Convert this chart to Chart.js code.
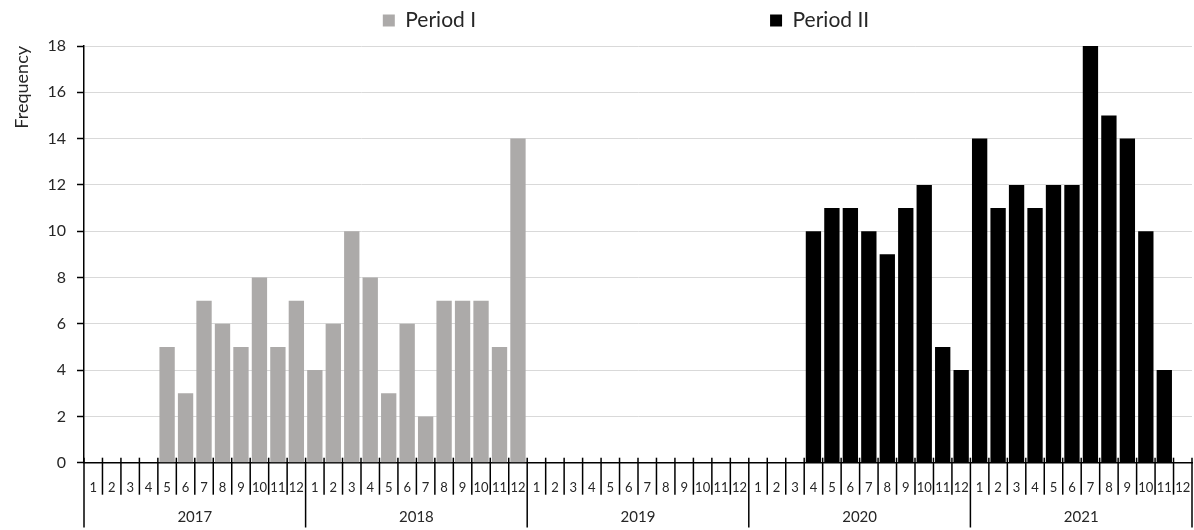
<!DOCTYPE html>
<html>
<head>
<meta charset="utf-8">
<script src="https://cdn.jsdelivr.net/npm/chart.js@4/dist/chart.umd.min.js"></script>
<style>
  html, body { margin: 0; padding: 0; background: #fff; }
  #wrap { width: 1194px; height: 530px; }
</style>
</head>
<body>
<div id="wrap"><canvas id="c"></canvas></div>
<script>
const months = ['1','2','3','4','5','6','7','8','9','10','11','12'];
const years = ['2017','2018','2019','2020','2021'];
const yTicks = [0, 2, 4, 6, 8, 10, 12, 14, 16, 18];

const period1 = [
  null, null, null, null, 5, 3, 7, 6, 5, 8, 5, 7,
  4, 6, 10, 8, 3, 6, 2, 7, 7, 7, 5, 14,
  null, null, null, null, null, null, null, null, null, null, null, null,
  null, null, null, null, null, null, null, null, null, null, null, null,
  null, null, null, null, null, null, null, null, null, null, null, null
];
const period2 = [
  null, null, null, null, null, null, null, null, null, null, null, null,
  null, null, null, null, null, null, null, null, null, null, null, null,
  null, null, null, null, null, null, null, null, null, null, null, null,
  null, null, null, 10, 11, 11, 10, 9, 11, 12, 5, 4,
  14, 11, 12, 11, 12, 12, 18, 15, 14, 10, 4, null
];

const labels = years.flatMap(() => months);
const FONT = 'Lato';
const TXT = '#262626';

const monthTicks = {
  id: 'monthTicks',
  afterLayout(chart) {
    const lg = chart.legend;
    if (lg) { lg.top -= 288; lg.left += 30; lg.right += 30; }
  },
  afterDatasetsDraw(chart) {
    const x = chart.scales.x;
    const x2 = chart.scales.x2;
    const ctx = chart.ctx;
    const n = labels.length;
    const axisY = x.top;
    ctx.save();
    ctx.strokeStyle = '#000';
    ctx.lineWidth = 1.5;
    for (let i = 0; i <= n; i++) {
      let px;
      if (i === 0) px = x.left;
      else if (i === n) px = x.right;
      else px = (x.getPixelForValue(i - 1) + x.getPixelForValue(i)) / 2;
      const longLine = (i % months.length) === 0;
      ctx.beginPath();
      ctx.moveTo(px, axisY - 5);
      ctx.lineTo(px, longLine ? x2.bottom + 1 : axisY + 32);
      ctx.stroke();
    }
    ctx.restore();
  }
};

new Chart(document.getElementById('c'), {
  type: 'bar',
  data: {
    labels: labels,
    datasets: [
      { label: 'Period I', data: period1, backgroundColor: '#acaaa9', borderWidth: 0 },
      { label: 'Period II', data: period2, backgroundColor: '#000000', borderWidth: 0 }
    ]
  },
  options: {
    responsive: true,
    maintainAspectRatio: false,
    animation: false,
    barPercentage: 0.83,
    categoryPercentage: 1.0,
    layout: { padding: { top: 4, left: 0, right: 2, bottom: 3.5 } },
    plugins: {
      tooltip: { enabled: false },
      legend: {
        position: 'top',
        maxHeight: 42,
        labels: {
          font: { family: FONT, size: 21 },
          color: TXT,
          boxWidth: 12,
          boxHeight: 12,
          padding: 294
        }
      }
    },
    scales: {
      x: {
        stacked: true,
        position: 'bottom',
        weight: 0,
        grid: { display: false, drawTicks: true, tickLength: 15.5 },
        border: { display: true, color: '#000', width: 1.5 },
        ticks: {
          autoSkip: false, maxRotation: 0, minRotation: 0,
          padding: 2,
          font: { family: FONT, size: 13 },
          color: TXT
        }
      },
      x2: {
        type: 'category',
        labels: years,
        offset: true,
        position: 'bottom',
        weight: 1,
        grid: { display: false, drawTicks: true, tickLength: 10.7 },
        border: { display: false },
        ticks: {
          autoSkip: false, maxRotation: 0, minRotation: 0,
          padding: 0,
          font: { family: FONT, size: 15 },
          color: TXT
        }
      },
      y: {
        stacked: true,
        min: yTicks[0],
        max: yTicks[yTicks.length - 1],
        afterFit(s) { s.width = 84; },
        afterBuildTicks(s) { s.ticks = yTicks.map(v => ({ value: v })); },
        grid: { color: '#d9d9d9', lineWidth: 1, tickColor: '#000', tickLength: 7, tickWidth: 1.5 },
        border: { display: true, color: '#000', width: 1.5 },
        ticks: {
          padding: 11,
          font: { family: FONT, size: 16 },
          color: TXT
        },
        title: {
          display: true,
          align: 'end',
          text: 'Frequency',
          font: { family: FONT, size: 18 },
          color: TXT,
          padding: { top: 11, bottom: 0 }
        }
      }
    }
  },
  plugins: [monthTicks]
});
</script>
</body>
</html>
